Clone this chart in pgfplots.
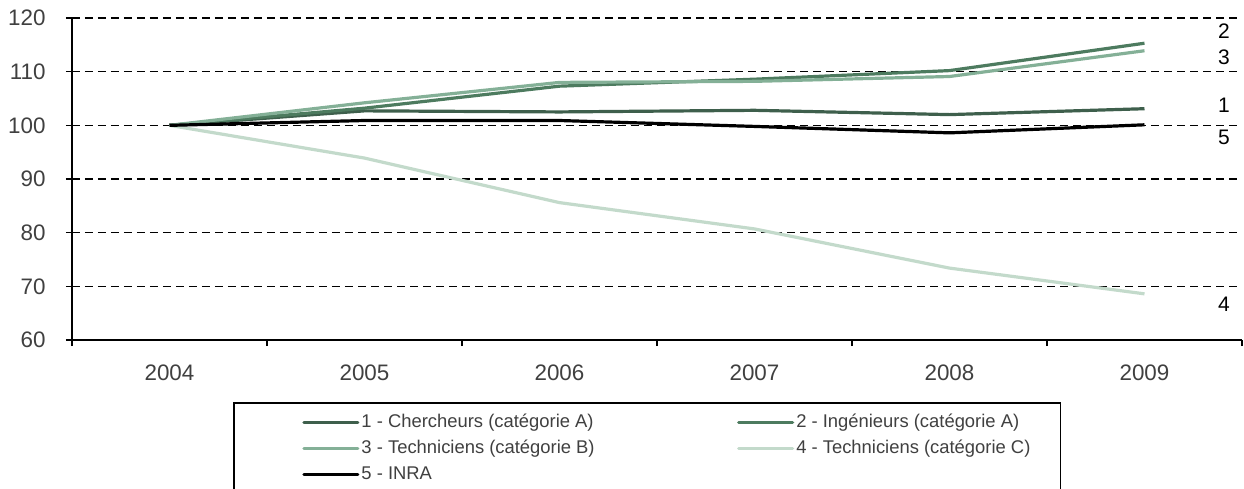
\documentclass[border=0pt]{standalone}
\usepackage{pgfplots}
\pgfplotsset{compat=1.18}
\usepackage{fontspec}
\setmainfont{Liberation Sans}
\definecolor{c1}{HTML}{3E5F4C}
\definecolor{c2}{HTML}{4D7B5F}
\definecolor{c3}{HTML}{84B097}
\definecolor{c4}{HTML}{C3DACB}
\definecolor{tk}{HTML}{404040}
\begin{document}
\begin{tikzpicture}
\begin{axis}[
  width=585pt, height=161pt, scale only axis,
  xmin=-0.5, xmax=5.5, ymin=60, ymax=120,
  axis x line*=bottom, axis y line*=left,
  axis line style={-, line width=0.8pt, black},
  xtick={0,1,2,3,4,5},
  xticklabels={2004,2005,2006,2007,2008,2009},
  every major x tick/.append style={draw=none},
  minor xtick={-0.5,0.5,1.5,2.5,3.5,4.5,5.5},
  every minor x tick/.append style={black, line width=0.8pt},
  minor tick length=3pt, major tick length=3pt,
  tick align=outside,
  ytick={60,70,80,90,100,110,120},
  every major y tick/.append style={black, line width=0.8pt},
  ymajorgrids,
  grid style={black, line width=0.8pt, dash pattern=on 4pt off 2.5pt},
  /pgf/number format/assume math mode=true,
  tick label style={font=\fontsize{11.2}{13}\selectfont, text=tk},
  yticklabel style={anchor=east, inner sep=0pt, xshift=-10pt},
  xticklabel style={anchor=north, inner sep=0pt, yshift=-9pt},
  legend columns=2,
  legend cell align=left,
  legend style={at={(axis description cs:0.1376,-0.1925)}, anchor=north west,
    draw=black, line width=0.9pt, inner xsep=14pt, inner ysep=4.5pt,
    font=\fontsize{9.2}{10}\selectfont, text=tk,
    nodes={inner xsep=1pt, inner ysep=0pt, text height=8pt, text depth=2.5pt},
    row sep=2.5pt,
    /tikz/every even column/.append style={column sep=50pt}},
  legend image code/.code={\path[draw=none] (0pt,0pt) -- (48pt,0pt);
    \draw[#1, line cap=round] (21pt,0pt) -- (48pt,0pt);},
  every axis plot/.append style={line width=1.6pt, line join=round},
]
\addplot[c1] coordinates {(0,100) (1,102.7) (2,102.5) (3,102.8) (4,102.0) (5,103.1)};
\addlegendentry{1 - Chercheurs (catégorie A)}
\addplot[c2] coordinates {(0,100) (1,103.2) (2,107.3) (3,108.6) (4,110.2) (5,115.3)};
\addlegendentry{2 - Ingénieurs (catégorie A)}
\addplot[c3] coordinates {(0,100) (1,104.2) (2,108.0) (3,108.2) (4,109.1) (5,113.9)};
\addlegendentry{3 - Techniciens (catégorie B)}
\addplot[c4] coordinates {(0,100) (1,93.9) (2,85.6) (3,80.7) (4,73.4) (5,68.6)};
\addlegendentry{4 - Techniciens (catégorie C)}
\addplot[black] coordinates {(0,100) (1,100.9) (2,100.9) (3,99.8) (4,98.6) (5,100.1)};
\addlegendentry{5 - INRA}
\begin{scope}[every node/.style={font=\fontsize{10.5}{12}\selectfont, text=black}]
\node at (axis cs:5.408,117.6) {2};
\node at (axis cs:5.408,112.7) {3};
\node at (axis cs:5.408,103.8) {1};
\node at (axis cs:5.408,97.8) {5};
\node at (axis cs:5.408,66.7) {4};
\end{scope}
\coordinate (O) at (rel axis cs:0,0);
\end{axis}
\pgfresetboundingbox
\path[use as bounding box] ([shift={(-36pt,-74pt)}]O) rectangle ([shift={(586pt,170pt)}]O);
\end{tikzpicture}
\end{document}
